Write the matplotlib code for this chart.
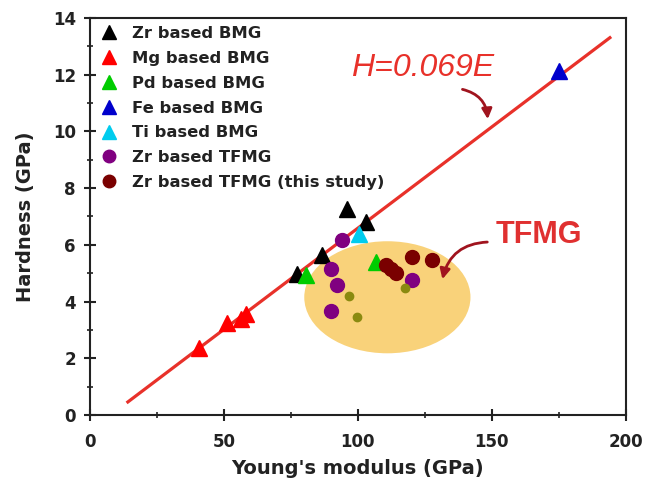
import numpy as np
import matplotlib
matplotlib.use('Agg')
import matplotlib.pyplot as plt
from matplotlib.patches import Ellipse
from matplotlib.ticker import MultipleLocator

plt.rcParams['font.family'] = ['DejaVu Sans']

# data
zr_bmg_E = [95.9, 103.0, 86.6, 77.2]
zr_bmg_H = [7.25, 6.80, 5.65, 4.98]
mg_bmg_E = [40.7, 51.1, 56.3, 58.2]
mg_bmg_H = [2.35, 3.23, 3.37, 3.55]
pd_bmg_E = [80.6, 106.7]
pd_bmg_H = [4.95, 5.40]
fe_bmg_E = [175.0]
fe_bmg_H = [12.14]
ti_bmg_E = [100.4]
ti_bmg_H = [6.39]
zr_tfmg_E = [94.0, 90.0, 92.2, 90.0, 120.0]
zr_tfmg_H = [6.17, 5.16, 4.60, 3.65, 4.77]
this_E = [110.4, 112.3, 114.2, 120.0, 127.6]
this_H = [5.30, 5.16, 5.02, 5.58, 5.47]
olive_E = [96.6, 99.6, 117.5]
olive_H = [4.18, 3.47, 4.46]

fit_E = [14.2, 194.0]
fit_H = [0.46, 13.3]

tfmg_center = (111.0, 4.15)
tfmg_width = 62.0
tfmg_height = 3.95

fig = plt.figure(figsize=(6.46, 4.82), dpi=100)
ax = fig.add_axes([0.139, 0.139, 0.830, 0.824])

ax.add_patch(Ellipse(tfmg_center, tfmg_width, tfmg_height, facecolor='#f9d27a',
                     edgecolor='none', zorder=1))
ax.plot(fit_E, fit_H, color='#e8312a', lw=2.3, zorder=2)

ms_tri = 11
ms_dot = 10
ax.plot(zr_bmg_E, zr_bmg_H, '^', color='black', ms=ms_tri, ls='none', label='Zr based BMG', zorder=3)
ax.plot(mg_bmg_E, mg_bmg_H, '^', color='#ff0000', ms=ms_tri, ls='none', label='Mg based BMG', zorder=3)
ax.plot(pd_bmg_E, pd_bmg_H, '^', color='#00cc00', ms=ms_tri, ls='none', label='Pd based BMG', zorder=3)
ax.plot(fe_bmg_E, fe_bmg_H, '^', color='#0000cc', ms=ms_tri, ls='none', label='Fe based BMG', zorder=3)
ax.plot(ti_bmg_E, ti_bmg_H, '^', color='#00ccee', ms=ms_tri, ls='none', label='Ti based BMG', zorder=3)
ax.plot(zr_tfmg_E, zr_tfmg_H, 'o', color='#800080', ms=ms_dot, ls='none', label='Zr based TFMG', zorder=3)
ax.plot(this_E, this_H, 'o', color='#7a0000', ms=ms_dot, ls='none', label='Zr based TFMG (this study)', zorder=3)
ax.plot(olive_E, olive_H, 'o', color='#8a8a10', ms=6, ls='none', zorder=3)

ax.text(124, 12.24, 'H=0.069E', color='#e8312a', fontsize=23, style='italic',
        family='Liberation Sans', ha='center', va='center')
ax.annotate('', xy=(148.5, 10.33), xytext=(138, 11.5),
            arrowprops=dict(arrowstyle='-|>', color='#a0141e', lw=2,
                            mutation_scale=15, connectionstyle='arc3,rad=-0.4'))
ax.text(167.5, 6.35, 'TFMG', color='#e03030', fontsize=22, fontweight='bold',
        family='Liberation Sans', ha='center', va='center')
ax.annotate('', xy=(131.3, 4.69), xytext=(149.3, 6.1),
            arrowprops=dict(arrowstyle='-|>', color='#a0141e', lw=2,
                            mutation_scale=15, connectionstyle='arc3,rad=0.4'))

ax.set_xlim(0, 200)
ax.set_ylim(0, 14)
ax.xaxis.set_major_locator(MultipleLocator(50))
ax.xaxis.set_minor_locator(MultipleLocator(25))
ax.yaxis.set_major_locator(MultipleLocator(2))
ax.yaxis.set_minor_locator(MultipleLocator(1))
ax.tick_params(which='major', direction='inout', length=8, width=1.5, labelsize=12,
               colors='#222222')
ax.tick_params(which='minor', direction='inout', length=5, width=1.2, colors='#222222')
ax.tick_params(axis='x', which='major', pad=9)
ax.tick_params(axis='y', which='major', pad=6)
for lab in ax.get_xticklabels() + ax.get_yticklabels():
    lab.set_fontweight('bold')
for s in ax.spines.values():
    s.set_linewidth(1.5)
    s.set_color('#222222')

ax.set_xlabel("Young's modulus (GPa)", fontsize=14, fontweight='bold', color='#222222', labelpad=6)
ax.set_ylabel('Hardness (GPa)', fontsize=14, fontweight='bold', color='#222222', labelpad=13)

leg = ax.legend(loc='upper left', frameon=False, prop={'size': 11.8, 'weight': 'bold'},
                handletextpad=0.65, labelspacing=0.6, borderaxespad=0.1,
                handlelength=1.4, markerscale=0.9)
for t in leg.get_texts():
    t.set_color('#222222')

fig.savefig('out.png', dpi=100)
